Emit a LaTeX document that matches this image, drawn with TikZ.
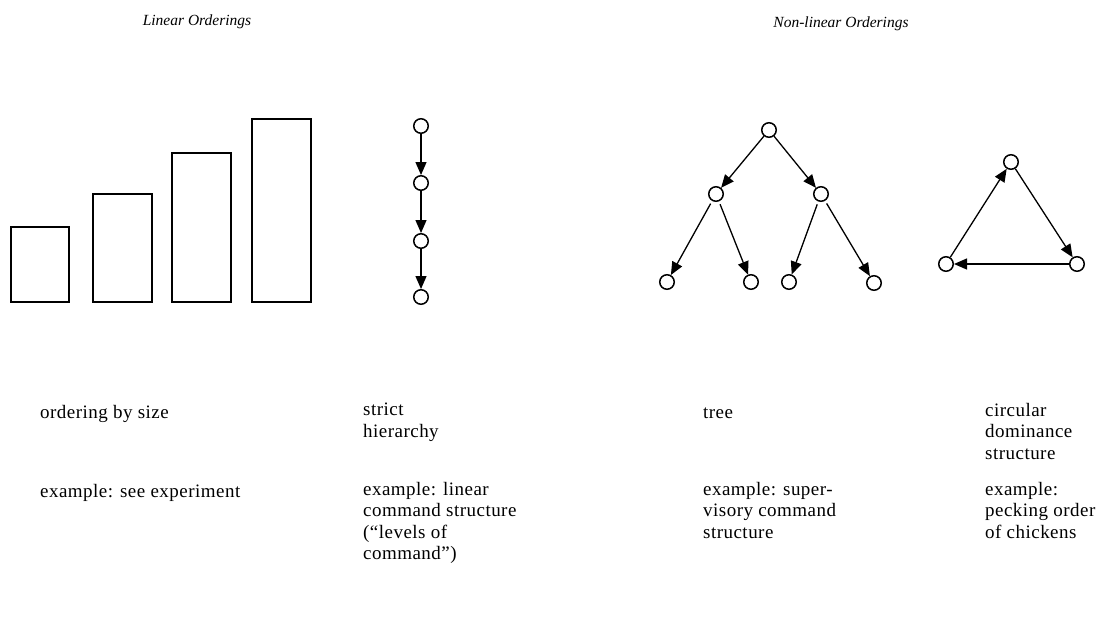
\documentclass[tikz,border=0pt]{standalone}
\usepackage{fontspec}
\setmainfont{Liberation Serif}
\newfontfamily\labfont[LetterSpace=2.5]{Liberation Serif}
\usetikzlibrary{arrows.meta}
\begin{document}
\begin{tikzpicture}[x=1pt,y=-1pt,
  vert/.style={circle,draw,line width=1.5pt,minimum size=14.5pt,inner sep=0pt},
  arr/.style={line width=1.3pt,-{Triangle[length=13pt,width=11pt]}},
  bar/.style={line width=2.2pt},
  head/.style={font=\fontsize{15.5}{18}\selectfont\itshape,anchor=base},
  lab/.style={font=\labfont\fontsize{19}{21.5}\selectfont,anchor=north west,align=left,inner sep=0pt,
    execute at begin node=\strut}]
\useasboundingbox (0,0) rectangle (1120,625);
% headings
\node[head] (h1) at (197,25) {Linear Orderings};
\node[head] (h2) at (841,27) {Non-linear Orderings};
% bars
\draw[bar] (11,302) rectangle (69,227);
\draw[bar] (93,302) rectangle (152,194);
\draw[bar] (172,302) rectangle (231,153);
\draw[bar] (252,302) rectangle (311,119);
% chain
\node[vert] (c1) at (421,126) {};
\node[vert] (c2) at (421,183) {};
\node[vert] (c3) at (421,241) {};
\node[vert] (c4) at (421,297) {};
\draw[arr] (c1) -- (c2);
\draw[arr] (c2) -- (c3);
\draw[arr] (c3) -- (c4);
% tree
\node[vert] (t0) at (769,130) {};
\node[vert] (t1) at (716,194) {};
\node[vert] (t2) at (821,194) {};
\node[vert] (t3) at (667,282) {};
\node[vert] (t4) at (751,282) {};
\node[vert] (t5) at (789,282) {};
\node[vert] (t6) at (874,283) {};
\draw[arr] (t0) -- (t1);
\draw[arr] (t0) -- (t2);
\draw[arr,shorten <=3pt] (t1) -- (t3);
\draw[arr,shorten <=3pt] (t1) -- (t4);
\draw[arr,shorten <=3pt] (t2) -- (t5);
\draw[arr,shorten <=3pt] (t2) -- (t6);
% cycle
\node[vert] (d1) at (1011,162) {};
\node[vert] (d2) at (946,264) {};
\node[vert] (d3) at (1077,264) {};
\draw[arr] (d2) -- (d1);
\draw[arr] (d1) -- (d3);
\draw[arr] (d3) -- (d2);
% labels (first baseline = y + 15)
\node[lab] (l1) at (40,403) {ordering by size};
\node[lab] (l2) at (363,403) {strict\\hierarchy};
\node[lab] (l3) at (703,403) {tree};
\node[lab] (l4) at (985,403) {circular\\dominance\\structure};
\node[lab] (e1) at (40,482) {example: see experiment};
\node[lab] (e2) at (363,482) {example: linear\\command structure\\(“levels of\\command”)};
\node[lab] (e3) at (703,482) {example: super-\\visory command\\structure};
\node[lab] (e4) at (985,482) {example:\\pecking order\\of chickens};
\end{tikzpicture}
\end{document}
